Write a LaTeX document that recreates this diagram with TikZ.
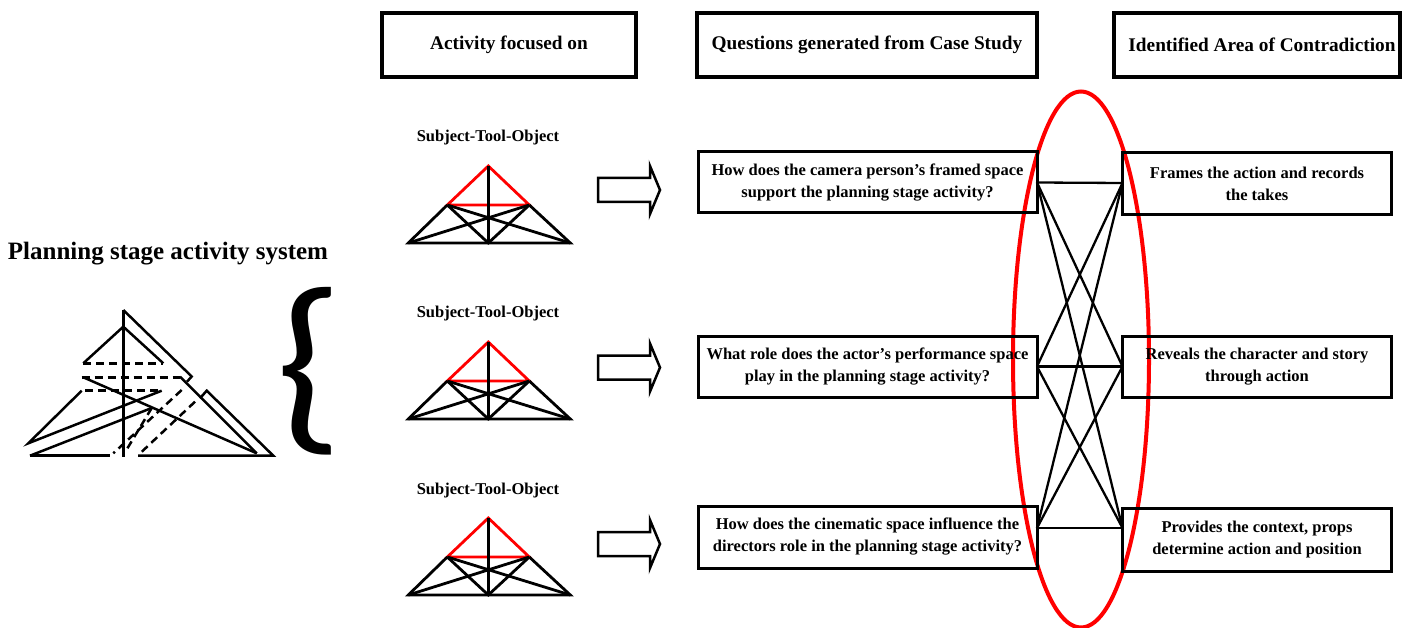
\documentclass[tikz,border=0pt]{standalone}
\usepackage{fontspec}
\setmainfont{Liberation Serif}
\newfontfamily\bracefont{Carlito}
\usepackage{graphicx}
\usetikzlibrary{calc}
\tikzset{
  hdr/.style={draw, line width=4pt, outer sep=0pt, inner sep=0pt, align=center,
    font=\fontsize{19.3}{23}\selectfont\bfseries, minimum height=64pt},
  qbox/.style={draw, line width=3pt, outer sep=0pt, inner sep=0pt, align=center,
    font=\fontsize{16.5}{22}\selectfont\bfseries},
  conn/.style={line width=2.3pt},
  lbl/.style={font=\fontsize{16.5}{20}\selectfont\bfseries, inner sep=0pt},
  fig/.style={line width=2.5pt},
  figd/.style={line width=2.5pt, dash pattern=on 8pt off 5pt},
  tri/.style={line width=2.8pt},
  sto/.pic={
    \draw[tri,red] (-41,39) -- (0,0) -- (41,39) -- cycle;
    \draw[tri] (-41,39) -- (-80,77) -- (82,77) -- (41,39);
    \draw[tri] (0,0) -- (0,77);
    \draw[tri] (-41,39) -- (0,77) -- (41,39);
    \draw[tri] (-41,39) -- (82,77);
    \draw[tri] (41,39) -- (-80,77);
  },
  barrow/.pic={
    \draw[line width=2.5pt] (0,-12) -- (52,-12) -- (52,-24) -- (62,0) -- (52,24) -- (52,12) -- (0,12) -- cycle;
  }
}
\begin{document}
\begin{tikzpicture}[x=1pt,y=-1pt]
\useasboundingbox (0,0) rectangle (1413,628);

% red ellipse
\draw[red, line width=4pt] (1081,359.5) ellipse [x radius=68pt, y radius=268pt];

% headers
\node[hdr, minimum width=254pt] (h1) at (509,44.7) {Activity focused on};
\node[hdr, minimum width=340pt] (h2) at (867,44.7) {Questions generated from Case Study};
\node[hdr, minimum width=286pt] (h3) at (1257,44.7) {\hspace*{10pt}Identified Area of Contradiction};

% question boxes
\node[qbox, minimum width=339pt, minimum height=61pt] (q1) at (867.5,182.5)
  {How does the camera person’s framed space\\support the planning stage activity?};
\node[qbox, minimum width=339pt, minimum height=61pt] (q2) at (867.5,366.5)
  {What role does the actor’s performance space\\play in the planning stage activity?};
\node[qbox, minimum width=339pt, minimum height=62pt] (q3) at (867.5,537)
  {How does the cinematic space influence the\\directors role in the planning stage activity?};

% contradiction boxes
\node[qbox, minimum width=269pt, minimum height=62pt] (r1) at (1257,184)
  {Frames the action and records\\the takes};
\node[qbox, minimum width=269pt, minimum height=61pt] (r2) at (1257,366.5)
  {Reveals the character and story\\through action};
\node[qbox, minimum width=269pt, minimum height=63pt] (r3) at (1257,539.5)
  {Provides the context, props\\determine action and position};

% connection points
\coordinate (l1) at (q1.east);
\coordinate (l2) at (q2.east);
\coordinate (l3) at ($(q3.east)+(0,-9)$);
\coordinate (k1) at ($(r1.west)+(0,-1)$);
\coordinate (k2) at (r2.west);
\coordinate (k3) at ($(r3.west)+(0,-11.5)$);
\foreach \a in {l1,l2,l3}{
  \foreach \b in {k1,k2,k3}{
    \draw[conn] (\a) -- (\b);
  }
}

% labels and triangles
\node[lbl] (s1) at (488,138) {Subject-Tool-Object};
\node[lbl] (s2) at (488,314) {Subject-Tool-Object};
\node[lbl] (s3) at (488,491) {Subject-Tool-Object};
\pic at (488.3,166) {sto};
\pic at (488.3,342) {sto};
\pic at (488.3,518) {sto};

% block arrows
\pic at (598,190) {barrow};
\pic at (598,367.5) {barrow};
\pic at (598,544) {barrow};

% title
\node[font=\fontsize{25}{30}\selectfont\bfseries, inner sep=0pt] (title) at (168,254) {Planning stage activity system};

% brace
\node[inner sep=0pt] (brace) at (310,371.5) {\resizebox{68pt}{141pt}{\bracefont\{}};

% left activity system figure
\draw[fig] (123.3,310) -- (123.3,457);
\draw[fig] (123.3,310) -- (191.7,376.5) -- (187,381.7);
\draw[fig] (180,376.7) -- (256.7,453.3);
\draw[fig] (200,398.3) -- (206.7,390.7) -- (273.3,455.7) -- (138,455.7);
\draw[fig] (30,455.7) -- (110,455.7);
\draw[fig] (83.3,363.3) -- (123.3,326.7) -- (163.3,363.3);
\draw[figd] (83.3,363.3) -- (163.3,363.3);
\draw[figd] (81.7,377.3) -- (180,377.3);
\draw[figd] (85,390.7) -- (161.7,390.7);
\draw[fig] (81.7,390.7) -- (28.3,443.3) -- (161.7,390.7);
\draw[fig] (83.3,377.3) -- (256.7,453.3);
\draw[fig] (30,455.7) -- (151.7,408);
\draw[figd] (181.7,390) -- (113.3,453.3);
\draw[figd] (195,401.7) -- (138.3,455);
\draw[figd] (151.7,408) -- (127,449);
\end{tikzpicture}
\end{document}
